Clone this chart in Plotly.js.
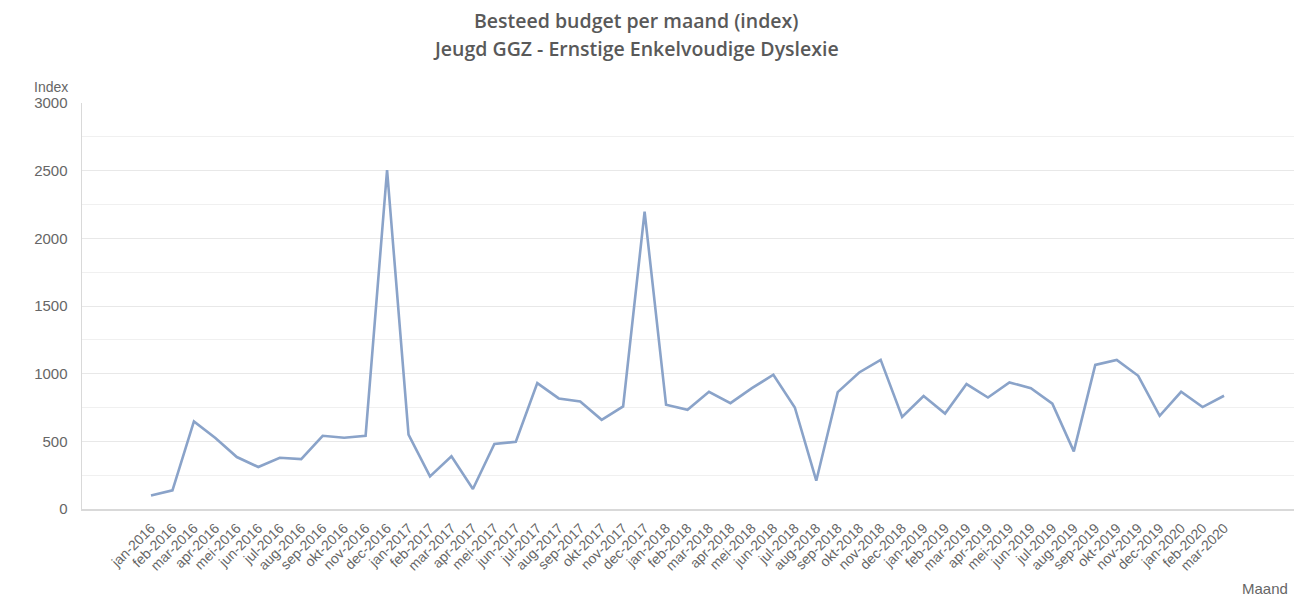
<!DOCTYPE html>
<html>
<head>
<meta charset="utf-8">
<script src="https://cdn.plot.ly/plotly-3.0.1.min.js"></script>
<style>
html,body{margin:0;padding:0;background:#fff;}
#chart{width:1296px;height:599px;}
</style>
</head>
<body>
<div id="chart"></div>
<script>
const months = [
  "jan-2016","feb-2016","mar-2016","apr-2016","mei-2016","jun-2016","jul-2016","aug-2016","sep-2016","okt-2016","nov-2016","dec-2016",
  "jan-2017","feb-2017","mar-2017","apr-2017","mei-2017","jun-2017","jul-2017","aug-2017","sep-2017","okt-2017","nov-2017","dec-2017",
  "jan-2018","feb-2018","mar-2018","apr-2018","mei-2018","jun-2018","jul-2018","aug-2018","sep-2018","okt-2018","nov-2018","dec-2018",
  "jan-2019","feb-2019","mar-2019","apr-2019","mei-2019","jun-2019","jul-2019","aug-2019","sep-2019","okt-2019","nov-2019","dec-2019",
  "jan-2020","feb-2020","mar-2020"
];
const indexValues = [
  100, 138, 647, 524, 384, 310, 379, 369, 541, 527, 541, 2505,
  549, 241, 389, 148, 480, 497, 930, 817, 795, 659, 758, 2197,
  770, 733, 866, 782, 893, 992, 750, 209, 864, 1009, 1102, 680,
  835, 705, 923, 824, 935, 893, 778, 426, 1065, 1102, 984, 689,
  866, 753, 837
];
const titleLine1 = "Besteed budget per maand (index)";
const titleLine2 = "Jeugd GGZ - Ernstige Enkelvoudige Dyslexie";
const yTitle = "Index";
const xTitle = "Maand";

const trace = {
  type: "scatter",
  mode: "lines",
  x: months,
  y: indexValues,
  line: {color: "#8aa3c9", width: 2.6},
  hoverinfo: "x+y"
};

const titleFont = {family: "Open Sans, sans-serif", size: 19.5, color: "#595959", weight: 600};

const layout = {
  width: 1296, height: 599,
  paper_bgcolor: "#ffffff", plot_bgcolor: "#ffffff",
  margin: {l: 82, r: 2, t: 103, b: 90},
  showlegend: false,
  font: {family: "Liberation Sans, Arial, sans-serif", color: "#666666"},
  xaxis: {
    type: "category",
    range: [-3.215, 53.26],
    tickangle: -45,
    tickfont: {size: 14, color: "#666666"},
    showgrid: false,
    showline: true, linecolor: "#d9d9d9", linewidth: 1.5,
    ticks: "outside", ticklen: 4, tickcolor: "rgba(0,0,0,0)",
    zeroline: false
  },
  yaxis: {
    range: [0, 3000],
    dtick: 500, tick0: 0,
    tickfont: {size: 15, color: "#666666"},
    showgrid: true, gridcolor: "#e8e8e8", gridwidth: 1,
    minor: {dtick: 250, showgrid: true, gridcolor: "#f0f0f0", gridwidth: 1},
    showline: true, linecolor: "#d9d9d9", linewidth: 1.5,
    ticks: "outside", ticklen: 10, tickcolor: "rgba(0,0,0,0)",
    zeroline: false
  },
  annotations: [
    {text: titleLine1, xref: "paper", yref: "paper", x: 0.457, y: 1.203, xanchor: "center", yanchor: "middle",
     showarrow: false, font: titleFont},
    {text: titleLine2, xref: "paper", yref: "paper", x: 0.457, y: 1.134, xanchor: "center", yanchor: "middle",
     showarrow: false, font: titleFont},
    {text: yTitle, xref: "paper", yref: "paper", x: -0.0095, y: 1.016, xanchor: "right", yanchor: "bottom",
     showarrow: false, font: {size: 14, color: "#666666"}},
    {text: xTitle, xref: "paper", yref: "paper", x: 0.9965, y: -0.17, xanchor: "right", yanchor: "top",
     showarrow: false, font: {size: 15, color: "#666666"}}
  ]
};

Plotly.newPlot("chart", [trace], layout, {displayModeBar: false, staticPlot: true});
</script>
</body>
</html>
